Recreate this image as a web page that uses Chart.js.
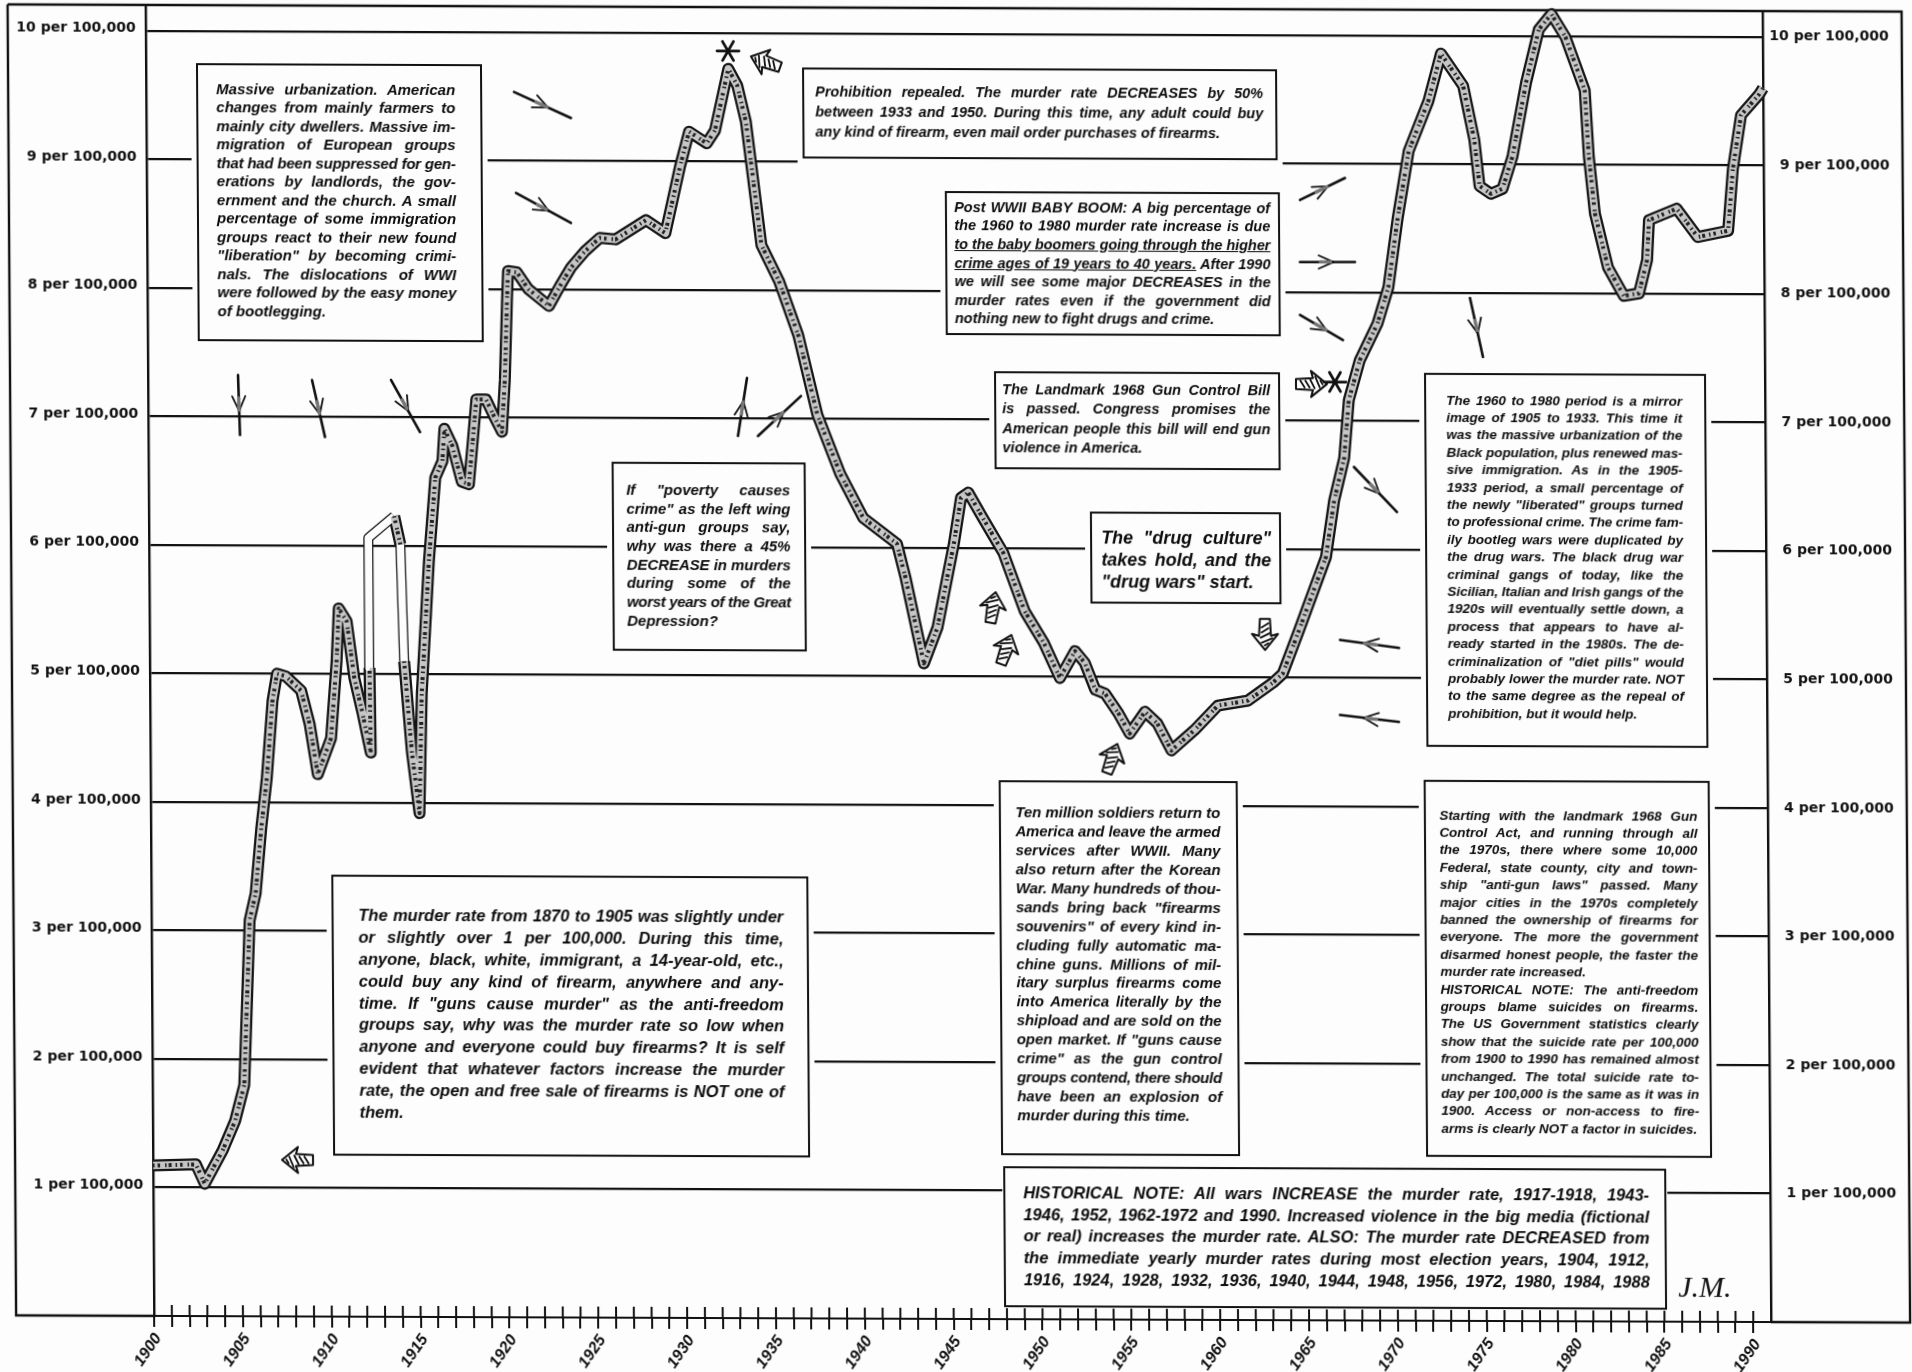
<!DOCTYPE html>
<html>
<head>
<meta charset="utf-8">
<title>Murder rate per 100,000, 1900-1990</title>
<script src="https://cdn.jsdelivr.net/npm/chart.js@4"></script>
<style>
html,body{margin:0;padding:0;background:#fdfdfd;width:1912px;height:1372px;overflow:hidden}
#sheet{position:absolute;left:0;top:0;width:1912px;height:1372px;transform-origin:956px 686px;transform:matrix(1,.0038,.0065,1,0,0);filter:blur(.55px)}
canvas{position:absolute;left:0;top:0}
.box{position:absolute;background:#fdfdfd;border:2px solid #111;box-sizing:border-box}
.ln{position:absolute;white-space:nowrap;font-family:"Liberation Sans",Arial,sans-serif;font-weight:bold;font-style:italic;color:#0c0c0c;text-align:justify;text-align-last:justify}
.ln.end{text-align:left;text-align-last:left}
.ln span{white-space:nowrap}
#sig{position:absolute;font:italic 30px "Liberation Serif",serif;color:#111}
</style>
</head>
<body>
<div id="sheet"><canvas id="c" width="1912" height="1372"></canvas></div>
<script>
// ---------- data ----------
const curveYears = [1900,1902.41,1902.9,1903.92,1904.63,1905.16,1905.52,1905.87,1906.21,1906.54,1906.89,1907.15,1907.65,1908.5,1908.97,1909.41,1910.17,1910.51,1910.65,1911.09,1911.5,1911.96,1912.4,1912.36,1912.34,1913.8,1914.14,1914.31,1914.71,1915.12,1915.29,1915.74,1916.13,1916.54,1916.66,1917.1,1917.62,1918.02,1918.25,1918.47,1919.02,1919.46,1919.9,1920.08,1920.23,1920.3,1920.8,1921.44,1922.59,1923.24,1923.85,1924.66,1925.47,1926.37,1928.08,1929.17,1930.02,1930.54,1931.53,1932,1932.77,1933.27,1933.74,1934.57,1935.55,1936.61,1937.66,1938.93,1940.2,1942.09,1942.57,1943.56,1944.34,1945.29,1945.71,1946.12,1946.9,1948.08,1949.25,1950.33,1951.21,1952.07,1952.61,1953.2,1953.75,1954.48,1955.12,1955.99,1956.68,1957.46,1958.77,1960.09,1961.79,1963.2,1963.75,1964.69,1966.23,1966.71,1967.29,1967.57,1968.2,1969.22,1969.84,1970.39,1971.03,1972.16,1972.88,1974.12,1974.73,1975.01,1975.65,1976.3,1976.87,1977.67,1978.4,1979.11,1979.9,1980.96,1981.17,1981.49,1982.21,1983.09,1983.94,1984.41,1984.53,1986.09,1987.27,1988.98,1989.27,1989.75,1990.77,1991];
const curveRates = [1.17,1.18,1.03,1.29,1.52,1.8,3.08,3.29,3.8,4.19,4.79,5,4.98,4.87,4.61,4.22,4.5,5.1,5.51,5.41,4.97,4.69,4.39,5.05,6.06,6.23,6.01,5.1,4.4,3.92,4.85,5.88,6.53,6.66,6.91,6.78,6.5,6.48,6.81,7.14,7.14,7.01,6.89,7.29,7.91,8.14,8.13,8,7.87,8.03,8.17,8.3,8.4,8.39,8.54,8.44,8.96,9.23,9.14,9.24,9.72,9.59,9.31,8.35,8.07,7.65,7.03,6.57,6.23,6.03,5.76,5.1,5.38,6.03,6.39,6.43,6.24,5.96,5.51,5.26,4.99,5.2,5.11,4.9,4.87,4.72,4.56,4.73,4.64,4.43,4.59,4.78,4.82,4.96,5.03,5.37,5.94,6.38,6.71,7.16,7.47,7.76,8.04,8.58,9.1,9.49,9.86,9.61,9.19,8.83,8.77,8.81,9.06,9.64,10.05,10.17,9.99,9.58,9.06,8.62,8.2,7.98,8,8.26,8.57,8.66,8.44,8.49,8.97,9.39,9.55,9.6];
const rateTicks = [1,2,3,4,5,6,7,8,9,10];
const yearTicks = [1900,1901,1902,1903,1904,1905,1906,1907,1908,1909,1910,1911,1912,1913,1914,1915,1916,1917,1918,1919,1920,1921,1922,1923,1924,1925,1926,1927,1928,1929,1930,1931,1932,1933,1934,1935,1936,1937,1938,1939,1940,1941,1942,1943,1944,1945,1946,1947,1948,1949,1950,1951,1952,1953,1954,1955,1956,1957,1958,1959,1960,1961,1962,1963,1964,1965,1966,1967,1968,1969,1970,1971,1972,1973,1974,1975,1976,1977,1978,1979,1980,1981,1982,1983,1984,1985,1986,1987,1988,1989,1990];
const yearLabels = [1900,1905,1910,1915,1920,1925,1930,1935,1940,1945,1950,1955,1960,1965,1970,1975,1980,1985,1990];
const hollowSegments = [23,24,26];

const noteMassive = ["Massive urbanization. American","changes from mainly farmers to","mainly city dwellers. Massive im-","migration of European groups","that had been suppressed for gen-","erations by landlords, the gov-","ernment and the church. A small","percentage of some immigration","groups react to their new found","\"liberation\" by becoming crimi-","nals. The dislocations of WWI","were followed by the easy money","of bootlegging.|"];
const noteProhibition = ["Prohibition repealed. The murder rate DECREASES by 50%","between 1933 and 1950. During this time, any adult could buy","any kind of firearm, even mail order purchases of firearms.|"];
const noteBabyBoom = ["Post WWII BABY BOOM: A big percentage of","the 1960 to 1980 murder rate increase is due","<u>to the baby boomers going through the higher</u>","<u>crime ages of 19 years to 40 years.</u> After 1990","we will see some major DECREASES in the","murder rates even if the government did","nothing new to fight drugs and crime.|"];
const noteGunBill = ["The Landmark 1968 Gun Control Bill","is passed. Congress promises the","American people this bill will end gun","violence in America.|"];
const notePoverty = ["If \"poverty causes","crime\" as the left wing","anti-gun groups say,","why was there a 45%","DECREASE in murders","during some of the","worst years of the Great","Depression?|"];
const noteDrugCulture = ["The \"drug culture\"","takes hold, and the","\"drug wars\" start.|"];
const noteMirror = ["The 1960 to 1980 period is a mirror","image of 1905 to 1933. This time it","was the massive urbanization of the","Black population, plus renewed mas-","sive immigration. As in the 1905-","1933 period, a small percentage of","the newly \"liberated\" groups turned","to professional crime. The crime fam-","ily bootleg wars were duplicated by","the drug wars. The black drug war","criminal gangs of today, like the","Sicilian, Italian and Irish gangs of the","1920s will eventually settle down, a","process that appears to have al-","ready started in the 1980s. The de-","criminalization of \"diet pills\" would","probably lower the murder rate. NOT","to the same degree as the repeal of","prohibition, but it would help.|"];
const noteSoldiers = ["Ten million soldiers return to","America and leave the armed","services after WWII. Many","also return after the Korean","War. Many hundreds of thou-","sands bring back \"firearms","souvenirs\" of every kind in-","cluding fully automatic ma-","chine guns. Millions of mil-","itary surplus firearms come","into America literally by the","shipload and are sold on the","open market. If \"guns cause","crime\" as the gun control","groups contend, there should","have been an explosion of","murder during this time.|"];
const noteLaws = ["Starting with the landmark 1968 Gun","Control Act, and running through all","the 1970s, there where some 10,000","Federal, state county, city and town-","ship \"anti-gun laws\" passed. Many","major cities in the 1970s completely","banned the ownership of firearms for","everyone. The more the government","disarmed honest people, the faster the","murder rate increased.|","HISTORICAL NOTE: The anti-freedom","groups blame suicides on firearms.","The US Government statistics clearly","show that the suicide rate per 100,000","from 1900 to 1990 has remained almost","unchanged. The total suicide rate to-","day per 100,000 is the same as it was in","1900. Access or non-access to fire-","arms is clearly NOT a factor in suicides.|"];
const noteEarly = ["The murder rate from 1870 to 1905 was slightly under","or slightly over 1 per 100,000. During this time,","anyone, black, white, immigrant, a 14-year-old, etc.,","could buy any kind of firearm, anywhere and any-","time. If \"guns cause murder\" as the anti-freedom","groups say, why was the murder rate so low when","anyone and everyone could buy firearms? It is self","evident that whatever factors increase the murder","rate, the open and free sale of firearms is NOT one of","them.|"];
const noteHistorical = ["HISTORICAL NOTE: All wars INCREASE the murder rate, 1917-1918, 1943-","1946, 1952, 1962-1972 and 1990. Increased violence in the big media (fictional","or real) increases the murder rate. ALSO: The murder rate DECREASED from","the immediate yearly murder rates during most election years, 1904, 1912,","1916, 1924, 1928, 1932, 1936, 1940, 1944, 1948, 1956, 1972, 1980, 1984, 1988"];

// ---------- layout of the notes and pen marks (reference pixels) ----------
const unskewX=(x,y)=>x-.0065*(y-686), unskewY=(x,y)=>y-.0038*(x-956);
const boxes=[
 {r:[196,63,482,341],t:[216,455],y:89,lh:18.5,f:15,lines:noteMassive,gap:5},
 {r:[802,67,1277,158],t:[815,1263],y:91,lh:20,f:14.5,lines:noteProhibition,gap:5},
 {r:[945,191,1280,335],t:[954,1270],y:207,lh:18.6,f:14.5,lines:noteBabyBoom,gap:5},
 {r:[994,371,1280,469],t:[1002,1270],y:390,lh:19.3,f:14.5,lines:noteGunBill,gap:5},
 {r:[612,462,806,651],t:[626,790],y:490,lh:18.7,f:15,lines:notePoverty,gap:5},
 {r:[1090,512,1281,604],t:[1101,1271],y:538,lh:22,f:18,lines:noteDrugCulture,gap:5},
 {r:[1424,373,1706,747],t:[1446,1682],y:400,lh:17.4,f:13.5,lines:noteMirror,gap:5},
 {r:[999,780,1238,1155],t:[1015,1220],y:813,lh:18.9,f:15,lines:noteSoldiers,gap:5},
 {r:[1424,780,1710,1157],t:[1439,1697],y:815,lh:17.4,f:13.5,lines:noteLaws,gap:5},
 {r:[331,875,808,1156],t:[358,783],y:916,lh:21.8,f:16.5,lines:noteEarly,gap:5},
 {r:[1003,1166,1666,1307],t:[1023,1649],y:1193,lh:21.7,f:16.5,lines:noteHistorical,gap:1}
];
const thinArrows=[[238,375,240,435],[312,380,325,437],[391,380,420,432],[514,92,571,118],[516,193,571,223],[738,436,747,378],[758,436,801,396],[1300,200,1345,178],[1300,262,1355,262],[1300,315,1343,340],[1470,298,1483,357],[1354,467,1397,512],[1399,648,1340,640],[1399,722,1340,715]];
const fatArrows=[[298,1160,180],[766,62,200],[993,608,-80],[1006,650,-70],[1112,759,-70],[1265,634,90],[1311,384,0]];
const asterisks=[[728,51],[1335,382]];

// ---------- drawing ----------
const ink='#111';
function thinArrow(c,a){
 const [x0,y0,x1,y1]=a, X0=unskewX(x0,y0),Y0=unskewY(x0,y0),X1=unskewX(x1,y1),Y1=unskewY(x1,y1);
 const ang=Math.atan2(Y1-Y0,X1-X0), mx=(X0+X1)/2, my=(Y0+Y1)/2;
 c.save();c.strokeStyle=ink;c.lineWidth=2.6;c.lineCap='round';
 c.beginPath();c.moveTo(X0,Y0);c.lineTo(X1,Y1);c.stroke();
 c.lineWidth=1.8;
 for(const s of [-1,1]){c.beginPath();c.moveTo(mx+Math.cos(ang)*6,my+Math.sin(ang)*6);c.lineTo(mx+Math.cos(ang+s*2.5)*11,my+Math.sin(ang+s*2.5)*11);c.stroke();}
 c.strokeStyle='#777';c.lineWidth=3.5;c.setLineDash([2,2]);
 c.beginPath();c.moveTo(mx-Math.cos(ang)*7,my-Math.sin(ang)*7);c.lineTo(mx+Math.cos(ang)*5,my+Math.sin(ang)*5);c.stroke();
 c.restore();
}
function fatArrow(c,a){
 const X=unskewX(a[0],a[1]),Y=unskewY(a[0],a[1]);
 c.save();c.translate(X,Y);c.rotate(a[2]*Math.PI/180);c.strokeStyle=ink;c.lineWidth=2;c.lineJoin='round';
 c.beginPath();c.moveTo(16,0);c.lineTo(0,-13);c.lineTo(2,-6);c.lineTo(-15,-5);c.lineTo(-15,5);c.lineTo(2,6);c.lineTo(0,13);c.closePath();c.stroke();
 c.lineWidth=1.8;
 for(const l of [[-11,-4,-6,4],[-6,-4,-1,4],[-1,-5,4,5],[4,-8,9,4],[9,-4,12,1]]){c.beginPath();c.moveTo(l[0],l[1]);c.lineTo(l[2],l[3]);c.stroke();}
 c.restore();
}
function asterisk(c,a){
 const X=unskewX(a[0],a[1]),Y=unskewY(a[0],a[1]);
 c.save();c.translate(X,Y);c.strokeStyle=ink;c.lineWidth=2.8;c.lineCap='round';
 for(let i=0;i<3;i++){c.rotate(Math.PI/3);c.beginPath();c.moveTo(-11,0);c.lineTo(11,0);c.stroke();}
 c.restore();
}
const sheetMarks={id:'sheetMarks',
 beforeDatasetsDraw(ch){
  const c=ch.ctx,a=ch.chartArea,x=ch.scales.x;
  c.save();c.strokeStyle=ink;c.lineWidth=2.4;
  c.beginPath();
  c.moveTo(12,a.top);c.lineTo(1906,a.top);c.lineTo(1906,a.bottom);c.lineTo(a.right,a.bottom);
  c.moveTo(12,a.top);c.lineTo(12,a.bottom);c.lineTo(a.left,a.bottom);
  c.stroke();
  c.lineWidth=2;
  for(const t of x.ticks){const p=x.getPixelForValue(t.value);if(t.value===1900)continue;c.beginPath();c.moveTo(p,a.bottom-11);c.lineTo(p,a.bottom);c.stroke();}
  c.restore();
 },
 afterDatasetsDraw(ch){
  const c=ch.ctx;
  thinArrows.forEach(a=>thinArrow(c,a));
  fatArrows.forEach(a=>fatArrow(c,a));
  asterisks.forEach(a=>asterisk(c,a));
 }
};
const points=curveYears.map((x,i)=>({x,y:curveRates[i]}));
const bandBase={data:points,showLine:true,pointRadius:0,clip:false,borderJoinStyle:'round',borderCapStyle:'butt',tension:0,yAxisID:'y'};
const isHollow=ctx=>hollowSegments.includes(ctx.p0DataIndex);
new Chart(document.getElementById('c'),{
 type:'scatter',
 data:{datasets:[
  {...bandBase,label:'Murder rate (stipple)',borderColor:'#222',borderWidth:4,borderDash:[1.5,3,2.5,5,1.5,2,3,4],
    segment:{borderColor:ctx=>isHollow(ctx)?'rgba(0,0,0,0)':undefined}},
  {...bandBase,label:'Murder rate (fill)',borderColor:'#c6c6c6',borderWidth:7.5,
    segment:{borderColor:ctx=>isHollow(ctx)?'#fdfdfd':undefined}},
  {...bandBase,label:'Murder rate',borderColor:'#151515',borderWidth:12,
    segment:{borderWidth:ctx=>isHollow(ctx)?10:undefined}}
 ]},
 plugins:[sheetMarks],
 options:{
  responsive:false,animation:false,devicePixelRatio:1,
  layout:{padding:{top:8,left:0,right:19,bottom:0}},
  plugins:{legend:{display:false},tooltip:{enabled:false},title:{display:false}},
  scales:{
   x:{type:'linear',min:1900,max:1991,position:'bottom',
    afterBuildTicks(s){s.ticks=yearTicks.map(value=>({value}));},
    afterFit(s){s.height=53;s.paddingLeft=0;s.paddingRight=0;},
    grid:{display:true,drawOnChartArea:false,drawTicks:true,tickLength:11,color:ink,lineWidth:2},
    border:{display:true,color:ink,width:2},
    ticks:{autoSkip:false,maxRotation:55,minRotation:55,padding:3,labelOffset:4,color:ink,font:{family:'Liberation Sans',size:16,style:'italic',weight:'bold'},
     callback:v=>yearLabels.includes(v)?String(v):''}
   },
   y:{type:'linear',min:0,max:10.2,position:'left',
    afterBuildTicks(s){s.ticks=rateTicks.map(value=>({value}));},
    afterFit(s){s.width=150;s.paddingTop=0;s.paddingBottom=0;},
    grid:{display:true,drawTicks:false,color:ink,lineWidth:2.2},
    border:{display:true,color:ink,width:2.4},
    ticks:{padding:10,labelOffset:-2,color:ink,font:{family:'DejaVu Sans',size:14,weight:'bold'},callback:v=>v+' per 100,000'}
   },
   yR:{type:'linear',min:0,max:10.2,position:'right',
    afterBuildTicks(s){s.ticks=rateTicks.map(value=>({value}));},
    afterFit(s){s.width=126;s.paddingTop=0;s.paddingBottom=0;},
    grid:{display:false,drawTicks:false},
    border:{display:true,color:ink,width:2.4},
    ticks:{padding:4,crossAlign:'far',color:ink,font:{family:'DejaVu Sans',size:14,weight:'bold'},callback:v=>v+' per 100,000'}
   }
  }
 }
});
// ---------- text notes ----------
const sheet=document.getElementById('sheet');
for(const b of boxes){
 const [L,T,R,B]=b.r, X=unskewX(L,T),Y=unskewY(L,T);
 const d=document.createElement('div');d.className='box';
 d.style.cssText=`left:${X}px;top:${Y}px;width:${R-L}px;height:${B-T}px;box-shadow:0 0 0 ${b.gap}px #fdfdfd`;
 sheet.appendChild(d);
 b.lines.forEach((raw,i)=>{
  const end=raw.endsWith('|'), html=end?raw.slice(0,-1):raw;
  const l=document.createElement('div');l.className='ln'+(end?' end':'');
  l.style.cssText=`left:${b.t[0]-L-2}px;top:${b.y-T-b.lh/2+i*b.lh-2}px;width:${b.t[1]-b.t[0]}px;line-height:${b.lh}px;font-size:${b.f}px`;
  l.innerHTML=`<span>${html}</span>`;
  d.appendChild(l);
  const s=l.firstChild, over=s.getBoundingClientRect().width-(b.t[1]-b.t[0]);
  if(over>0){const n=s.textContent.length;s.style.letterSpacing=(-over/n)+'px';}
  else {l.style.whiteSpace='normal';}
 });
}
const sig=document.createElement('div');sig.id='sig';sig.textContent='J.M.';
sig.style.left=unskewX(1678,1270)+'px';sig.style.top=unskewY(1678,1270)+'px';
sheet.appendChild(sig);
</script>
</body>
</html>
